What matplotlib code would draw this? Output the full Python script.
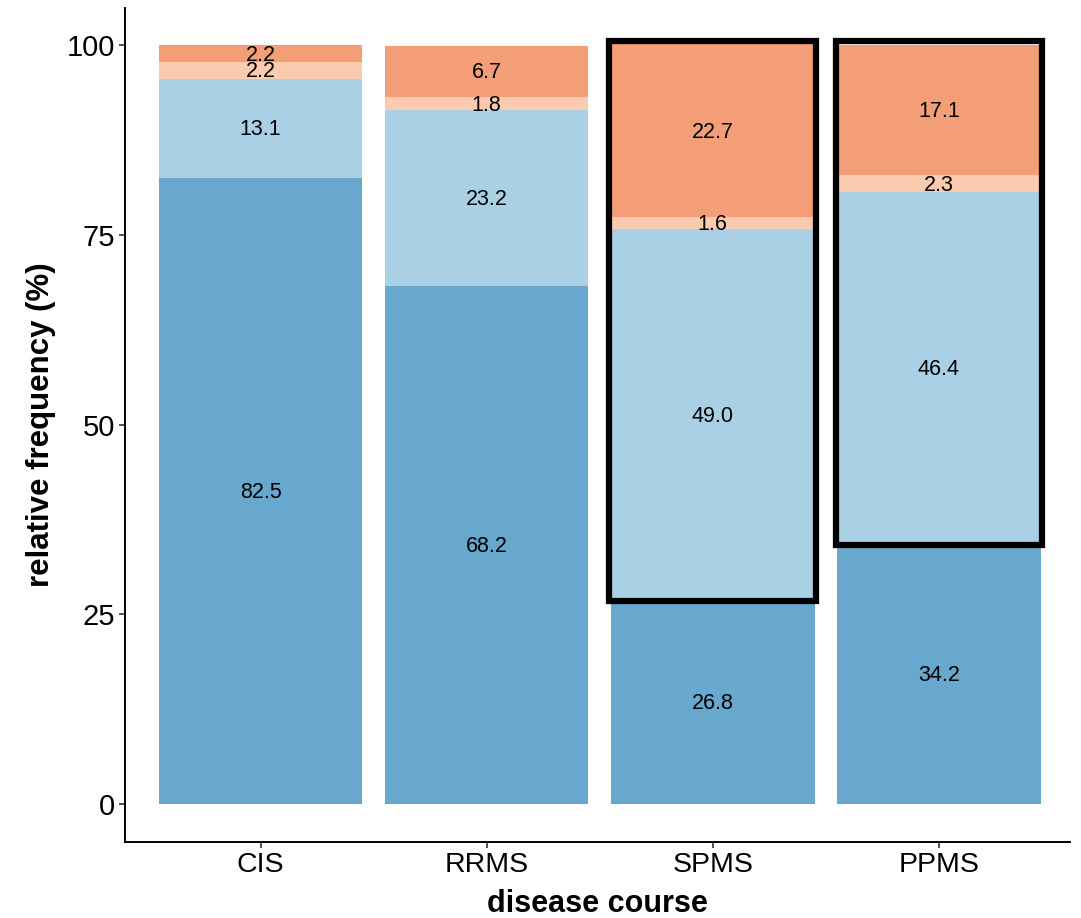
import matplotlib
matplotlib.use("Agg")
import matplotlib.pyplot as plt
from matplotlib.patches import Rectangle

plt.rcParams['font.family'] = ['Liberation Sans', 'DejaVu Sans']

categories = ["CIS", "RRMS", "SPMS", "PPMS"]
seg_dark_blue = [82.5, 68.2, 26.8, 34.2]
seg_light_blue = [13.1, 23.2, 49.0, 46.4]
seg_peach = [2.2, 1.8, 1.6, 2.3]
seg_orange = [2.2, 6.7, 22.7, 17.1]
series = [seg_dark_blue, seg_light_blue, seg_peach, seg_orange]
colors = ["#68A8CE", "#A9D0E4", "#FBCBB0", "#F49E78"]
boxed = ["SPMS", "PPMS"]
yticks = [0, 25, 50, 75, 100]

fig = plt.figure(figsize=(10.81, 9.18), dpi=100)
ax = fig.add_axes([0.1156, 0.0828, 0.8742, 0.9085])

x = list(range(1, len(categories) + 1))
width = 0.9
bottoms = [0.0] * len(categories)
for vals, col in zip(series, colors):
    ax.bar(x, vals, width=width, bottom=bottoms, color=col, edgecolor='none', zorder=2)
    for xi, v, b in zip(x, vals, bottoms):
        ax.text(xi, b + v / 2 - 0.2, f"{v:.1f}", ha='center', va='center', fontsize=15.5,
                color='black', zorder=4)
    bottoms = [b + v for b, v in zip(bottoms, vals)]

for name in boxed:
    i = categories.index(name)
    xi = x[i]
    lo = seg_dark_blue[i]
    ax.add_patch(Rectangle((xi - 0.457, lo), 0.914, 100.5 - lo, fill=False,
                           edgecolor='black', linewidth=4.5, zorder=5))

ax.set_xlim(0.4, 4.58)
ax.set_ylim(-5, 104.9)
ax.set_xticks(x)
ax.set_xticklabels(categories, fontsize=20.5)
ax.set_yticks(yticks)
ax.set_yticklabels([str(t) for t in yticks], fontsize=21)
ax.tick_params(axis='both', length=4, width=1.2, color='#333333', pad=3)
for s in ['top', 'right']:
    ax.spines[s].set_visible(False)
for s in ['left', 'bottom']:
    ax.spines[s].set_linewidth(1.4)
ax.set_xlabel("disease course", fontsize=22, fontweight='bold', labelpad=8)
ax.set_ylabel("relative frequency (%)", fontsize=22.5, fontweight='bold', labelpad=8)

fig.savefig("out.png", dpi=100)
